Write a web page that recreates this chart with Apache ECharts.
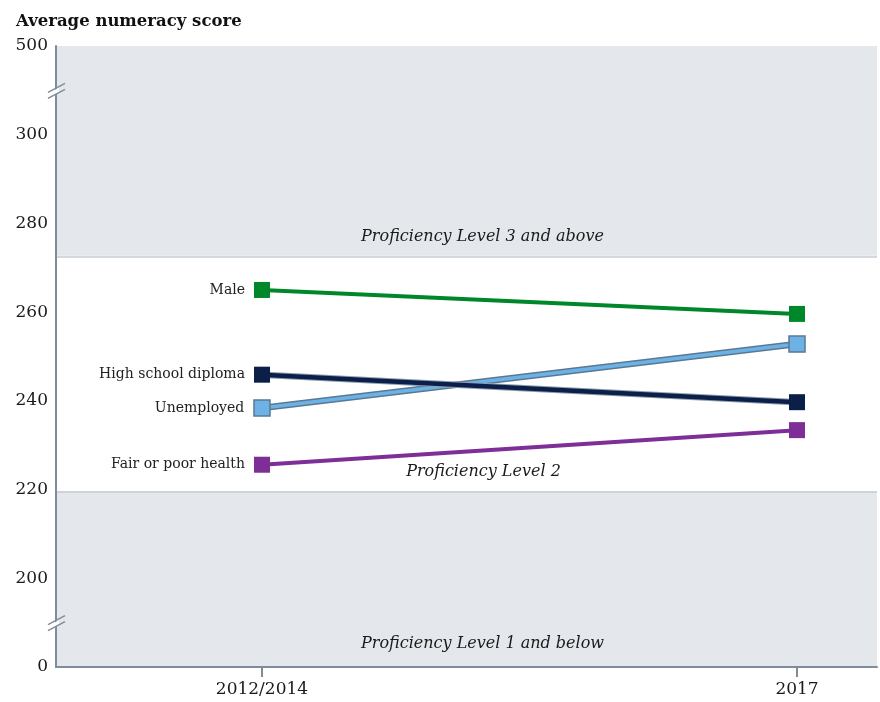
<!DOCTYPE html>
<html>
<head>
<meta charset="utf-8">
<script src="https://cdn.jsdelivr.net/npm/echarts@6/dist/echarts.min.js"></script>
<style>
html,body{margin:0;padding:0;background:#fff;}
#chart{width:880px;height:702px;}
</style>
</head>
<body>
<div id="chart"></div>
<script>
// ---- data ----
const years = ['2012/2014', '2017'];
const groups = ['Male', 'High school diploma', 'Unemployed', 'Fair or poor health'];
const male = [265.0, 259.6];
const highSchool = [245.9, 239.7];
const unemployed = [238.4, 252.8];
const poorHealth = [225.6, 233.4];
const yTickLabels = ['0', '200', '220', '240', '260', '280', '300', '500'];
const yTickScores = [0, 200, 220, 240, 260, 280, 300, 500];
const levelBounds = [219.7, 272.7];
const levelNames = ['Proficiency Level 1 and below', 'Proficiency Level 2', 'Proficiency Level 3 and above'];
const axisBreaks = [100, 400];

// piecewise scale: each tick interval occupies one slot on the axis
function toSlot(s) {
  for (let i = 0; i < yTickScores.length - 1; i++) {
    const a = yTickScores[i], b = yTickScores[i + 1];
    if (s <= b || i === yTickScores.length - 2) return i + (s - a) / (b - a);
  }
  return 0;
}
function pts(vals) { return vals.map((v, i) => [i, toSlot(v)]); }

const FONT = '"DejaVu Serif", serif';
const chart = echarts.init(document.getElementById('chart'), null, {renderer: 'canvas'});

const colors = {
  male: '#00872a', hsd: '#0c1f48', hsdEdge: '#8d9db2',
  unemp: '#6cb2e6', unempEdge: '#5b7891', health: '#7d2e97',
  band: '#e4e7eb', bandLine: '#c5ccd4', axis: '#7f8d9b'
};

function labelFirst(name) {
  return {
    show: true, position: 'left', distance: 9,
    formatter: p => p.dataIndex === 0 ? name : '',
    fontFamily: FONT, fontSize: 14, color: '#222'
  };
}

const topSlot = toSlot(yTickScores[yTickScores.length - 1]);
const bandLabel = (txt, dist, off) => ({
  show: true, position: 'insideBottom', distance: dist, offset: [off, 0], formatter: txt,
  fontFamily: FONT, fontStyle: 'italic', fontSize: 16, color: '#1a1a1a'
});

const series = [
  // background bands
  {
    type: 'line', data: [], silent: true, z: 0,
    markArea: {
      silent: true,
      data: [
        [{yAxis: toSlot(levelBounds[1]), itemStyle: {color: colors.band}, label: bandLabel(levelNames[2], 11, 16)},
         {yAxis: topSlot}],
        [{yAxis: toSlot(levelBounds[0]), itemStyle: {color: 'rgba(0,0,0,0)'}, label: bandLabel(levelNames[1], 11, 17)},
         {yAxis: toSlot(levelBounds[1])}],
        [{yAxis: 0, itemStyle: {color: colors.band}, label: bandLabel(levelNames[0], 15, 16)},
         {yAxis: toSlot(levelBounds[0])}]
      ]
    },
    markLine: {
      silent: true, symbol: 'none', label: {show: false},
      lineStyle: {color: colors.bandLine, width: 1.5, type: 'solid'},
      data: levelBounds.map(b => ({yAxis: toSlot(b)}))
    }
  },
  // Unemployed (edge + fill)
  {type: 'line', data: pts(unemployed), symbol: 'none', z: 2,
   lineStyle: {color: colors.unempEdge, width: 6.5}},
  {type: 'line', name: groups[2], data: pts(unemployed), z: 3, symbol: 'rect', symbolSize: 16,
   lineStyle: {color: colors.unemp, width: 3.5},
   itemStyle: {color: colors.unemp, borderColor: colors.unempEdge, borderWidth: 1.5},
   label: labelFirst(groups[2])},
  // High school diploma (edge + fill)
  {type: 'line', data: pts(highSchool), symbol: 'none', z: 4,
   lineStyle: {color: colors.hsdEdge, width: 6.5}},
  {type: 'line', name: groups[1], data: pts(highSchool), z: 5, symbol: 'rect', symbolSize: 16,
   lineStyle: {color: colors.hsd, width: 4.5},
   itemStyle: {color: colors.hsd},
   label: labelFirst(groups[1])},
  // Male
  {type: 'line', name: groups[0], data: pts(male), z: 6, symbol: 'rect', symbolSize: 16,
   lineStyle: {color: colors.male, width: 4},
   itemStyle: {color: colors.male},
   label: labelFirst(groups[0])},
  // Fair or poor health
  {type: 'line', name: groups[3], data: pts(poorHealth), z: 6, symbol: 'rect', symbolSize: 16,
   lineStyle: {color: colors.health, width: 4},
   itemStyle: {color: colors.health},
   label: labelFirst(groups[3])}
];

chart.setOption({
  animation: false,
  backgroundColor: '#fff',
  title: {
    text: 'Average numeracy score', left: 11, top: 8,
    textStyle: {fontFamily: FONT, fontWeight: 'bold', fontSize: 16.5, color: '#111'}
  },
  grid: {left: 56, right: 3, top: 46, bottom: 35},
  xAxis: {
    type: 'value', min: -0.385, max: 1.1495, z: 10,
    splitLine: {show: false},
    axisLine: {onZero: false, lineStyle: {color: colors.axis, width: 2}},
    axisTick: {show: true, customValues: [0, 1], length: 10, lineStyle: {color: colors.axis, width: 2}},
    axisLabel: {customValues: [0, 1], formatter: v => years[Math.round(v)] || '', margin: 14,
      fontFamily: FONT, fontSize: 17, color: '#1a1a1a'}
  },
  yAxis: {
    type: 'value', min: 0, max: topSlot, z: 10,
    splitLine: {show: false},
    axisLine: {show: true, onZero: false, lineStyle: {color: colors.axis, width: 2}},
    axisTick: {show: false},
    axisLabel: {customValues: yTickScores.map(toSlot), formatter: v => yTickLabels[Math.round(v)] || '',
      margin: 8, fontFamily: FONT, fontSize: 17, color: '#1a1a1a'}
  },
  series: series
});

// axis break marks "//" placed midway between the neighbouring ticks
const marks = [];
axisBreaks.forEach(b => {
  const p = chart.convertToPixel({xAxisIndex: 0, yAxisIndex: 0}, [-0.385, Math.floor(toSlot(b)) + 0.5]);
  const cx = p[0], cy = p[1];
  marks.push({
    type: 'polygon', z: 100,
    shape: {points: [[cx - 3, cy + 1], [cx + 3, cy - 3], [cx + 3, cy + 2], [cx - 3, cy + 6]]},
    style: {fill: '#fff'}
  });
  marks.push({type: 'line', z: 101, shape: {x1: cx - 8, y1: cy + 2, x2: cx + 9, y2: cy - 7}, style: {stroke: colors.axis, lineWidth: 1.5}});
  marks.push({type: 'line', z: 101, shape: {x1: cx - 8, y1: cy + 8, x2: cx + 9, y2: cy - 1}, style: {stroke: colors.axis, lineWidth: 1.5}});
});
chart.setOption({graphic: marks});
</script>
</body>
</html>
